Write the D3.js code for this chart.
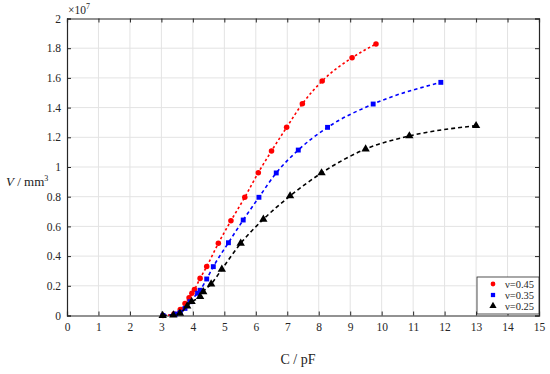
<!DOCTYPE html>
<html lang="en">
<head>
<meta charset="UTF-8">
<title>V vs C</title>
<script src="https://d3js.org/d3.v7.min.js"></script>
<style>
    body { margin: 0; background: #fff; }
    .grid line { stroke: #e3e3e3; stroke-width: 1; }
</style>
</head>
<body>
<script>
// DATA (V in units of 1e7 mm^3)
const xTicks = [0, 1, 2, 3, 4, 5, 6, 7, 8, 9, 10, 11, 12, 13, 14, 15];
const yTicks = [0, 0.2, 0.4, 0.6, 0.8, 1, 1.2, 1.4, 1.6, 1.8, 2];
const yTickLabels = ["0", "0.2", "0.4", "0.6", "0.8", "1", "1.2", "1.4", "1.6", "1.8", "2"];

const c045 = [3.05, 3.4, 3.6, 3.75, 3.88, 3.97, 4.05, 4.23, 4.44, 4.81, 5.21, 5.65, 6.08, 6.50, 6.98, 7.48, 8.11, 9.06, 9.82];
const v045 = [0, 0.01, 0.04, 0.08, 0.12, 0.15, 0.175, 0.25, 0.33, 0.486, 0.638, 0.796, 0.962, 1.108, 1.267, 1.426, 1.579, 1.736, 1.828];

const c035 = [3.05, 3.45, 3.6, 3.75, 3.91, 4.15, 4.23, 4.44, 4.65, 5.13, 5.60, 6.10, 6.65, 7.35, 8.28, 9.73, 11.88];
const v035 = [0, 0.01, 0.02, 0.048, 0.093, 0.15, 0.17, 0.246, 0.329, 0.49, 0.643, 0.796, 0.96, 1.114, 1.267, 1.424, 1.57];

const c025 = [3.04, 3.38, 3.59, 3.82, 3.96, 4.23, 4.33, 4.58, 4.92, 5.52, 6.24, 7.09, 8.09, 9.49, 10.88, 13.0];
const v025 = [0, 0.003, 0.015, 0.064, 0.093, 0.127, 0.16, 0.212, 0.311, 0.486, 0.648, 0.805, 0.96, 1.121, 1.209, 1.278];

const seriesNames = ["ν=0.45", "ν=0.35", "ν=0.25"];
const seriesColors = ["#ff0000", "#0000ff", "#000000"];

// LAYOUT
const width = 550, height = 374;
const mLeft = 67, mRight = 539, mTop = 18.5, mBottom = 315.5;
const serif = "Liberation Serif, Times New Roman, serif";

const xScale = d3.scaleLinear().domain([0, 15]).range([mLeft, mRight]);
const yScale = d3.scaleLinear().domain([0, 2]).range([mBottom, mTop]);

const svg = d3.select("body").append("svg")
    .attr("width", width)
    .attr("height", height);

// GRID
const grid = svg.append("g").attr("class", "grid");
grid.selectAll(".gx").data(xTicks.slice(1, -1)).enter().append("line")
    .attr("x1", d => xScale(d)).attr("x2", d => xScale(d))
    .attr("y1", mTop).attr("y2", mBottom);
grid.selectAll(".gy").data(yTicks.slice(1, -1)).enter().append("line")
    .attr("x1", mLeft).attr("x2", mRight)
    .attr("y1", d => yScale(d)).attr("y2", d => yScale(d));

// AXES (ticks inside, box on all sides)
const axisColor = "#262626";
const xAxis = d3.axisBottom(xScale).tickValues(xTicks).tickSize(-4).tickFormat(d3.format("d"));
const yAxis = d3.axisLeft(yScale).tickValues(yTicks).tickSize(-4).tickFormat((d, i) => yTickLabels[i]);

const gx = svg.append("g").attr("transform", `translate(0,${mBottom})`).call(xAxis);
const gy = svg.append("g").attr("transform", `translate(${mLeft},0)`).call(yAxis);
const gxTop = svg.append("g").attr("transform", `translate(0,${mTop})`)
    .call(d3.axisTop(xScale).tickValues(xTicks).tickSize(-4).tickFormat(""));
const gyRight = svg.append("g").attr("transform", `translate(${mRight},0)`)
    .call(d3.axisRight(yScale).tickValues(yTicks).tickSize(-4).tickFormat(""));

[gx, gy, gxTop, gyRight].forEach(g => {
    g.attr("font-family", serif).attr("font-size", 11.5);
    g.select(".domain").attr("stroke", axisColor).attr("stroke-width", 1.2);
    g.selectAll(".tick line").attr("stroke", axisColor);
    g.selectAll(".tick text").attr("fill", axisColor);
});
gx.selectAll(".tick text").attr("y", 7);
gy.selectAll(".tick text").attr("x", -6);

// EXPONENT LABEL
const expo = svg.append("text")
    .attr("x", mLeft + 1).attr("y", 14)
    .attr("font-family", serif).attr("font-size", 11.5).attr("fill", axisColor);
expo.append("tspan").text("×10");
expo.append("tspan").attr("dy", -5).attr("font-size", 8).text("7");

// AXIS LABELS
const yl = svg.append("text")
    .attr("x", 6).attr("y", 186)
    .attr("font-family", serif).attr("font-size", 13).attr("fill", "#222");
yl.append("tspan").attr("font-style", "italic").text("V");
yl.append("tspan").text(" / mm");
yl.append("tspan").attr("dy", -5).attr("font-size", 8).text("3");

svg.append("text")
    .attr("x", 298).attr("y", 364)
    .attr("text-anchor", "middle")
    .attr("font-family", serif).attr("font-size", 14).attr("fill", "#222")
    .text("C / pF");

// LINES + MARKERS
const allC = [c045, c035, c025];
const allV = [v045, v035, v025];
const dashes = ["2.5 2.5", "3.5 3", "4 3"];
const symbols = [d3.symbolCircle, d3.symbolSquare, d3.symbolTriangle];
const symSizes = [24, 24, 30];

const line = d3.line()
    .curve(d3.curveMonotoneX)
    .x(d => xScale(d[0]))
    .y(d => yScale(d[1]));

allC.forEach((cs, i) => {
    const pts = cs.map((c, j) => [c, allV[i][j]]);
    svg.append("path")
        .attr("d", line(pts))
        .attr("fill", "none")
        .attr("stroke", seriesColors[i])
        .attr("stroke-width", 1.6)
        .attr("stroke-dasharray", dashes[i]);
    svg.selectAll(".m" + i).data(pts).enter().append("path")
        .attr("d", d3.symbol().type(symbols[i]).size(symSizes[i]))
        .attr("transform", d => `translate(${xScale(d[0])},${yScale(d[1])})`)
        .attr("fill", seriesColors[i]);
});

// LEGEND
const legend = svg.append("g");
legend.append("rect")
    .attr("x", 477).attr("y", 277).attr("width", mRight - 477).attr("height", 37)
    .attr("fill", "#fff").attr("stroke", axisColor).attr("stroke-width", 0.8);
seriesNames.forEach((name, i) => {
    const y = 284 + i * 11;
    legend.append("path")
        .attr("d", d3.symbol().type(symbols[i]).size(symSizes[i] * 0.75))
        .attr("transform", `translate(493,${y})`)
        .attr("fill", seriesColors[i]);
    legend.append("text")
        .attr("x", 505).attr("y", y + 3.5)
        .attr("font-family", serif).attr("font-size", 10.5).attr("fill", axisColor)
        .text(name);
});
</script>
</body>
</html>
